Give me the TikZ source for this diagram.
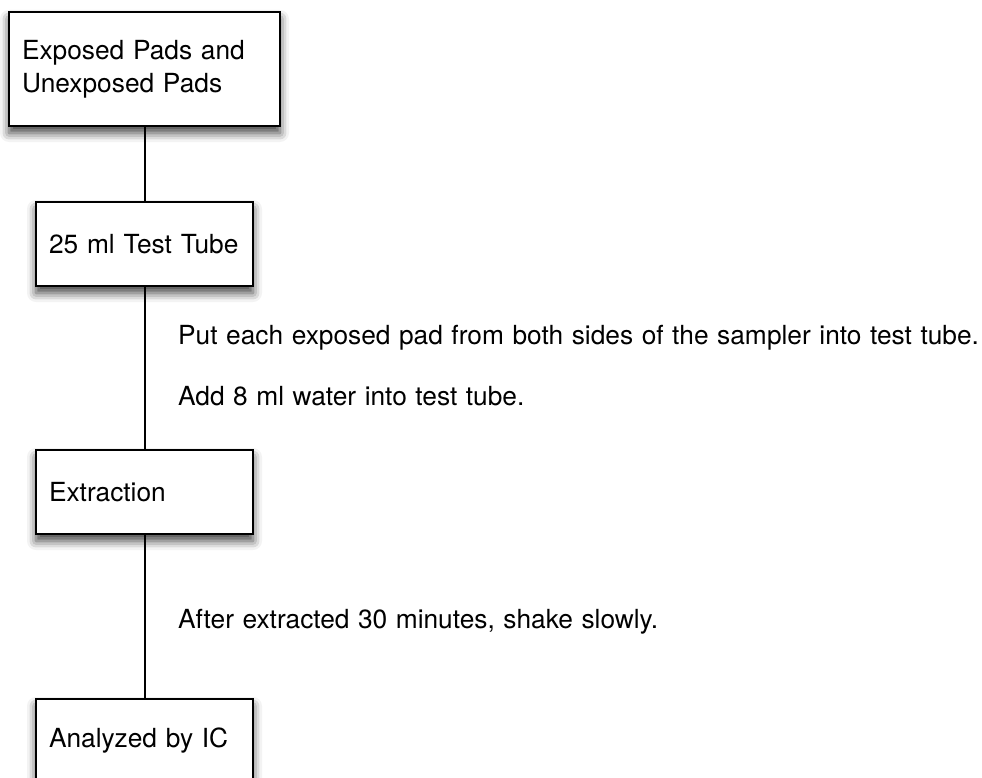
\documentclass[tikz,border=0pt]{standalone}
\usepackage{fontspec}
\setmainfont{TeX Gyre Heros}
\usetikzlibrary{shadows.blur}

\begin{document}
\begin{tikzpicture}[x=1pt, y=1pt,
		stepbox/.style={draw, line width=2pt, fill=white, align=left,
			inner xsep=13pt, text width=191pt, minimum height=84pt,
			blur shadow={shadow xshift=0pt, shadow yshift=-7pt,
				shadow blur radius=9pt, shadow opacity=75}},
		note/.style={anchor=base west, inner sep=0pt,
			execute at begin node={\spaceskip=0.325em\relax}}]
	\fontsize{26.3}{33}\selectfont
	\useasboundingbox (0,0) rectangle (982,-778);
	
	\node[stepbox, text width=245pt, minimum height=114pt] (pads) at (144.5,-69) {Exposed Pads and\\Unexposed Pads};
	\node[stepbox] (tube) at (144.5,-244) {25 ml Test Tube};
	\node[stepbox] (extract) at (144.5,-492) {Extraction};
	\node[stepbox] (ic) at (144.5,-741) {Analyzed by IC};
	
	\node[note] (put) at (178,-344) {Put each exposed pad from both sides of the sampler into test tube.};
	\node[note] (water) at (178,-405) {Add 8 ml water into test tube.};
	\node[note] (shake) at (178,-628) {After extracted 30 minutes, shake slowly.};
	
	\draw[-, line width=2pt] (pads) -- (tube);
	\draw[-, line width=2pt] (tube) -- (extract);
	\draw[-, line width=2pt] (extract) -- (ic);
	
\end{tikzpicture}
\end{document}
